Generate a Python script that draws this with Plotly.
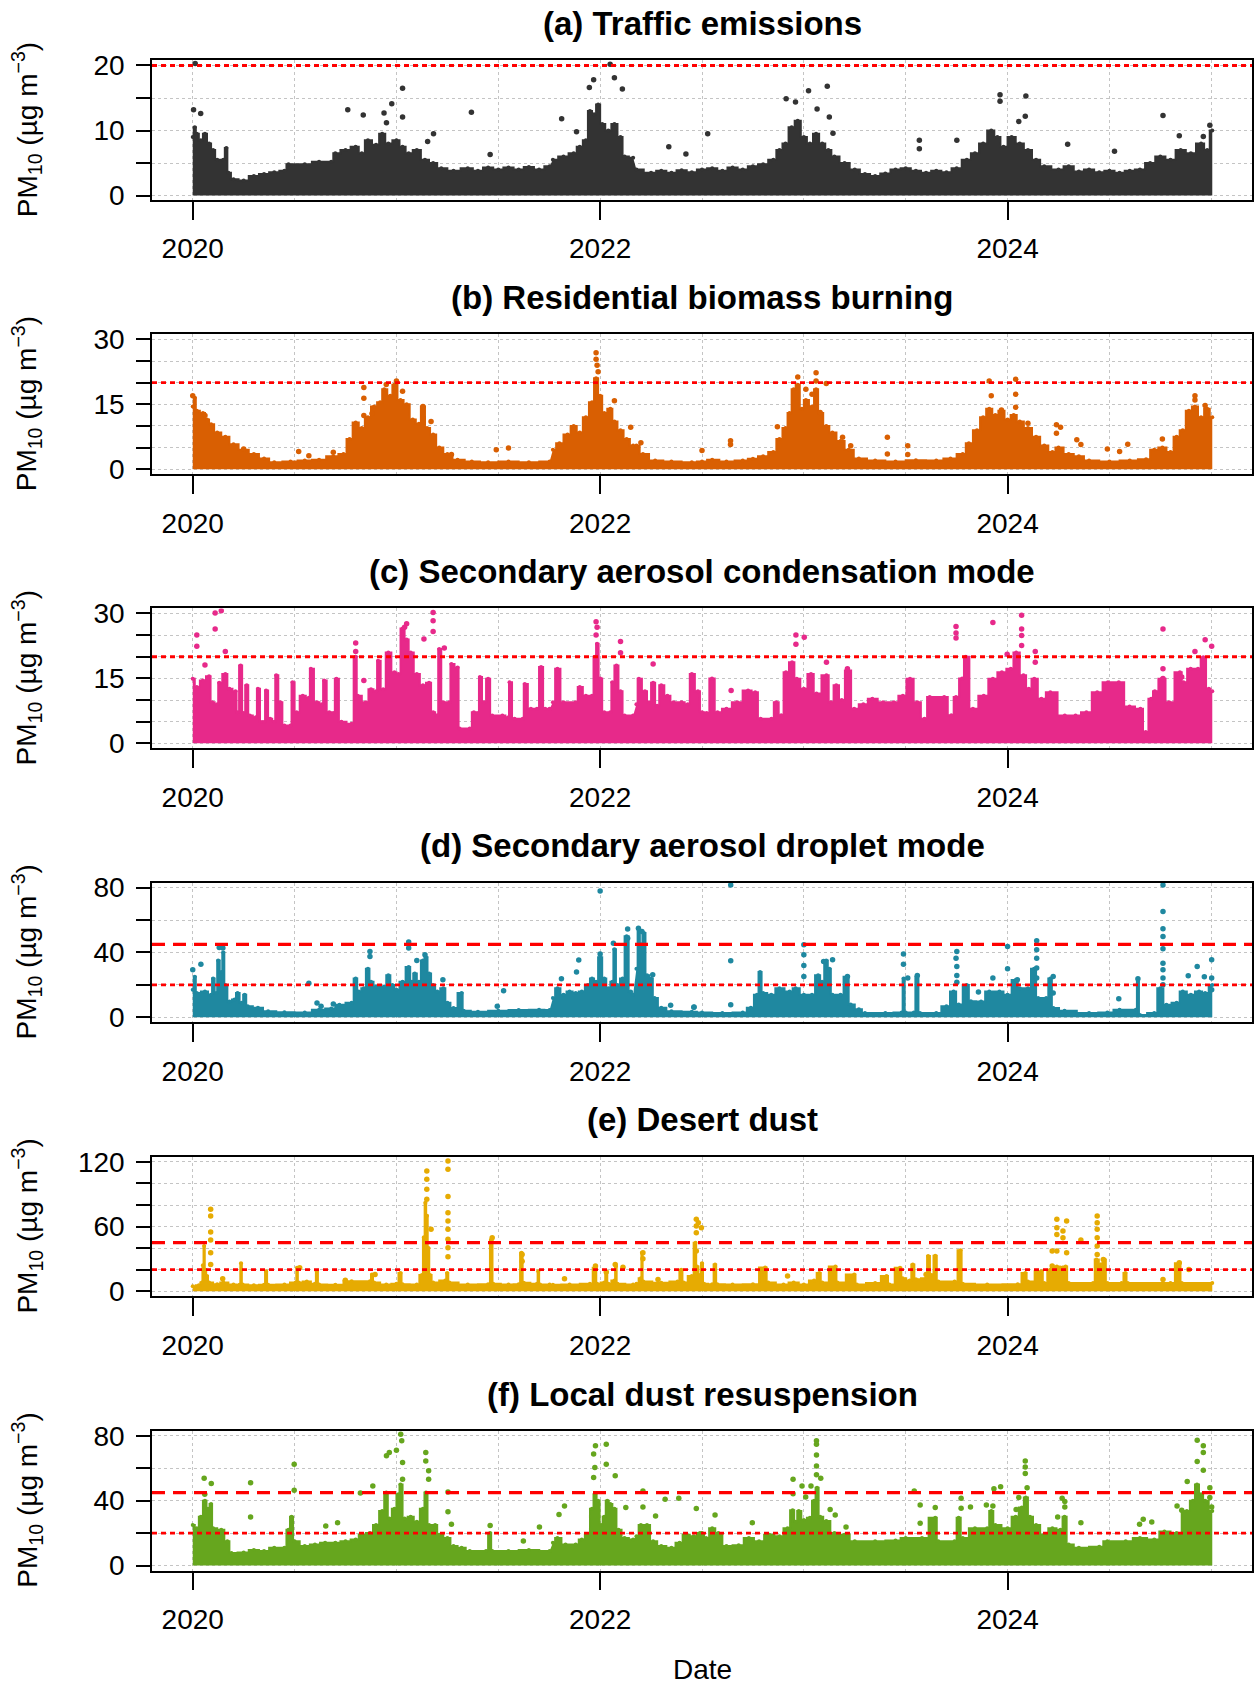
import plotly.graph_objects as go

W, H = 1255, 1686

# ---------------- data (decimal year, PM10 in ug m-3) ----------------
panel_titles = ["(a) Traffic emissions", "(b) Residential biomass burning",
                "(c) Secondary aerosol condensation mode", "(d) Secondary aerosol droplet mode",
                "(e) Desert dust", "(f) Local dust resuspension"]
panel_colors = ["#333333", "#D95F02", "#E7298A", "#1F88A0", "#E6AB02", "#66A61E"]
y_ranges = [[-0.7, 20.8], [-1.15, 31.15], [-1.15, 31.15], [-3.1, 83.1], [-4.9, 124.9], [-3.1, 83.1]]
y_major = [10, 15, 15, 40, 60, 40]
y_minor = [5, 5, 5, 20, 20, 20]
year_ticks = [2020, 2022, 2024]
x_range = [2019.8, 2025.2]
dotted_limit = 20
dashed_limit = 45

# upper edge of the dense cloud of hourly points (None = data gap)
traffic_envelope = [
    (2020.000, 9.0), (2020.010, 10.5), (2020.020, 9.5), (2020.040, 8.5), (2020.060, 9.5), (2020.080, 8.0),
    (2020.100, 7.0), (2020.120, 5.5), (2020.150, 5.5), (2020.165, 7.3), (2020.175, 3.5), (2020.200, 2.5),
    (2020.250, 2.3), (2020.300, 3.0), (2020.350, 3.3), (2020.400, 3.6), (2020.450, 3.8), (2020.470, 4.8),
    (2020.550, 4.8), (2020.620, 5.2), (2020.680, 5.2), (2020.700, 6.5), (2020.750, 7.0), (2020.800, 7.5),
    (2020.830, 6.5), (2020.860, 8.5), (2020.900, 7.8), (2020.930, 9.5), (2020.960, 8.0), (2021.000, 8.5),
    (2021.030, 7.5), (2021.060, 6.5), (2021.100, 7.0), (2021.140, 5.5), (2021.180, 5.0), (2021.220, 4.2),
    (2021.280, 3.8), (2021.350, 4.2), (2021.400, 3.8), (2021.450, 4.3), (2021.500, 4.0), (2021.550, 4.3),
    (2021.600, 4.0), (2021.650, 4.4), (2021.700, 4.0), (2021.752, 4.5), None,
    (2021.768, 5.5), (2021.820, 6.0), (2021.870, 6.5), (2021.900, 7.5), (2021.930, 8.5), (2021.950, 13.0),
    (2021.970, 12.5), (2021.990, 14.0), (2022.010, 11.0), (2022.040, 10.0), (2022.070, 11.0), (2022.100, 9.0),
    (2022.120, 6.0), (2022.162, 5.8), None,
    (2022.178, 4.0), (2022.250, 3.5), (2022.300, 3.8), (2022.350, 3.5), (2022.400, 3.9), (2022.450, 3.6),
    (2022.500, 4.0), (2022.550, 4.2), (2022.600, 3.8), (2022.650, 4.3), (2022.700, 4.0), (2022.750, 4.5),
    (2022.800, 4.8), (2022.850, 5.5), (2022.880, 7.0), (2022.910, 8.0), (2022.940, 10.5), (2022.970, 11.5),
    (2023.000, 9.0), (2023.030, 8.0), (2023.060, 9.5), (2023.090, 8.0), (2023.120, 7.0), (2023.150, 6.0),
    (2023.200, 5.0), (2023.250, 4.0), (2023.300, 3.3), (2023.350, 3.0), (2023.400, 3.4), (2023.450, 4.0),
    (2023.500, 4.2), (2023.550, 3.8), (2023.600, 3.5), (2023.650, 3.8), (2023.700, 3.6), (2023.750, 4.2),
    (2023.800, 5.5), (2023.840, 6.5), (2023.880, 8.0), (2023.920, 10.0), (2023.950, 9.0), (2023.980, 7.5),
    (2024.020, 9.0), (2024.060, 8.0), (2024.100, 7.0), (2024.140, 5.5), (2024.180, 4.5), (2024.250, 4.0),
    (2024.300, 4.5), (2024.350, 3.7), (2024.400, 4.0), (2024.450, 3.6), (2024.500, 3.8), (2024.550, 3.5),
    (2024.600, 3.8), (2024.650, 4.0), (2024.700, 5.0), (2024.750, 6.0), (2024.800, 5.5), (2024.850, 7.0),
    (2024.900, 6.5), (2024.950, 8.0), (2024.980, 7.0), (2025.005, 10.0)]
traffic_points = [
    (2020.012, 20.3), (2020.004, 13.2), (2020.039, 12.6), (2020.761, 13.2), (2020.837, 12.4), (2020.939, 12.7),
    (2020.951, 11.2), (2020.977, 14.1), (2021.030, 16.5), (2021.030, 12.1), (2021.153, 8.3), (2021.182, 9.5),
    (2021.368, 12.8), (2021.460, 6.3), (2021.811, 11.8), (2021.884, 9.8), (2021.947, 16.6), (2021.968, 17.8),
    (2022.049, 20.2), (2022.070, 18.1), (2022.109, 16.4), (2022.337, 7.5), (2022.421, 6.4), (2022.528, 9.5),
    (2022.913, 14.9), (2022.959, 14.4), (2023.023, 16.1), (2023.065, 13.3), (2023.115, 16.8), (2023.125, 12.1),
    (2023.143, 9.6), (2023.567, 8.5), (2023.567, 7.2), (2023.751, 8.5), (2023.963, 15.5), (2023.963, 14.5),
    (2024.055, 11.4), (2024.087, 12.2), (2024.090, 15.3), (2024.295, 7.9), (2024.525, 6.8), (2024.763, 12.3),
    (2024.843, 9.2), (2024.961, 9.1), (2024.993, 10.8)]

biomass_envelope = [
    (2020.000, 14.5), (2020.010, 16.5), (2020.020, 13.5), (2020.050, 13.0), (2020.070, 11.5), (2020.090, 10.4),
    (2020.120, 8.5), (2020.160, 7.5), (2020.200, 5.8), (2020.250, 4.5), (2020.300, 3.5), (2020.350, 2.5),
    (2020.400, 1.6), (2020.480, 1.8), (2020.550, 2.0), (2020.620, 2.2), (2020.690, 3.0), (2020.740, 3.5),
    (2020.770, 7.0), (2020.800, 10.8), (2020.830, 9.5), (2020.860, 12.0), (2020.890, 14.5), (2020.920, 15.5),
    (2020.940, 18.5), (2020.970, 17.0), (2020.990, 19.5), (2021.020, 16.0), (2021.050, 15.0), (2021.080, 11.5),
    (2021.110, 10.5), (2021.130, 14.5), (2021.150, 9.5), (2021.180, 8.0), (2021.210, 5.0), (2021.250, 3.5),
    (2021.300, 2.2), (2021.370, 1.8), (2021.450, 1.6), (2021.550, 1.8), (2021.650, 1.6), (2021.752, 1.8), None,
    (2021.768, 4.5), (2021.800, 6.0), (2021.840, 8.0), (2021.870, 10.0), (2021.900, 8.5), (2021.930, 12.0),
    (2021.960, 15.5), (2021.980, 21.0), (2022.000, 17.0), (2022.020, 13.0), (2022.050, 14.0), (2022.070, 11.0),
    (2022.100, 9.0), (2022.130, 7.0), (2022.162, 5.5), None,
    (2022.178, 5.5), (2022.210, 3.5), (2022.270, 2.0), (2022.350, 1.8), (2022.450, 1.6), (2022.500, 1.8),
    (2022.550, 2.2), (2022.620, 1.8), (2022.700, 2.0), (2022.750, 2.4), (2022.800, 3.0), (2022.850, 4.0),
    (2022.880, 7.0), (2022.910, 9.5), (2022.930, 13.0), (2022.950, 18.5), (2022.970, 19.5), (2022.990, 14.0),
    (2023.010, 16.0), (2023.040, 14.5), (2023.060, 18.5), (2023.080, 13.0), (2023.110, 10.0), (2023.140, 8.5),
    (2023.180, 6.5), (2023.220, 4.5), (2023.270, 2.5), (2023.350, 2.0), (2023.450, 1.8), (2023.550, 2.1),
    (2023.650, 2.0), (2023.720, 2.5), (2023.780, 3.5), (2023.810, 6.0), (2023.850, 9.0), (2023.880, 12.0),
    (2023.910, 14.0), (2023.940, 12.5), (2023.970, 13.5), (2024.000, 11.5), (2024.030, 12.5), (2024.060, 11.0),
    (2024.100, 9.5), (2024.140, 7.5), (2024.180, 5.5), (2024.220, 4.0), (2024.250, 5.0), (2024.300, 3.5),
    (2024.350, 3.0), (2024.400, 2.0), (2024.500, 1.8), (2024.600, 2.0), (2024.680, 2.3), (2024.720, 4.5),
    (2024.760, 5.0), (2024.800, 4.0), (2024.830, 7.5), (2024.860, 9.0), (2024.890, 13.5), (2024.920, 14.5),
    (2024.950, 12.0), (2024.980, 14.0), (2025.005, 12.0)]
biomass_points = [
    (2020.00, 17.0), (2020.06, 12.4), (2020.25, 4.7), (2020.52, 4.1), (2020.57, 3.1), (2020.69, 3.9),
    (2020.84, 18.9), (2020.84, 16.4), (2020.84, 12.4), (2020.88, 12.9), (2020.95, 19.6), (2021.00, 20.4),
    (2021.03, 18.0), (2021.13, 14.5), (2021.17, 11.0), (2021.27, 3.4), (2021.49, 4.5), (2021.55, 4.9),
    (2021.98, 26.9), (2021.98, 25.4), (2021.985, 24.0), (2021.99, 22.5), (2022.07, 15.8), (2022.15, 9.7),
    (2022.20, 6.1), (2022.50, 4.3), (2022.64, 6.6), (2022.64, 5.7), (2022.87, 9.8), (2022.97, 21.3),
    (2023.01, 18.5), (2023.04, 17.3), (2023.06, 22.3), (2023.06, 20.4), (2023.11, 19.8), (2023.08, 13.1),
    (2023.19, 7.4), (2023.23, 5.4), (2023.41, 7.4), (2023.41, 3.5), (2023.51, 5.4), (2023.51, 3.4),
    (2023.91, 20.4), (2023.92, 17.0), (2023.97, 13.7), (2024.04, 20.8), (2024.04, 17.3), (2024.04, 14.3),
    (2024.10, 10.6), (2024.24, 10.3), (2024.24, 8.3), (2024.26, 9.7), (2024.34, 6.8), (2024.36, 5.7),
    (2024.49, 4.7), (2024.55, 4.1), (2024.59, 5.8), (2024.76, 7.0), (2024.92, 17.0), (2024.92, 16.0),
    (2024.97, 14.7)]

condensation_envelope = [
    (2020.000, 14.9), (2020.020, 13.0), (2020.050, 14.5), (2020.080, 15.5), (2020.095, 9.5), (2020.120, 9.0),
    (2020.130, 14.0), (2020.160, 16.0), (2020.180, 12.6), (2020.210, 12.0), (2020.220, 7.2), (2020.235, 18.0),
    (2020.250, 7.0), (2020.265, 13.4), (2020.280, 6.4), (2020.310, 6.0), (2020.320, 12.6), (2020.340, 4.9),
    (2020.350, 4.9), (2020.360, 12.2), (2020.380, 5.7), (2020.400, 5.0), (2020.410, 15.7), (2020.430, 9.5),
    (2020.450, 4.1), (2020.480, 4.1), (2020.490, 14.1), (2020.510, 7.2), (2020.540, 11.0), (2020.570, 10.5),
    (2020.580, 17.2), (2020.610, 9.5), (2020.635, 9.0), (2020.645, 14.5), (2020.670, 7.2), (2020.690, 7.0),
    (2020.705, 14.9), (2020.730, 5.0), (2020.780, 4.5), (2020.800, 20.0), (2020.810, 11.0), (2020.850, 9.5),
    (2020.875, 12.5), (2020.900, 12.0), (2020.910, 19.1), (2020.935, 12.5), (2020.960, 21.0), (2020.990, 16.4),
    (2021.010, 16.0), (2021.030, 26.5), (2021.050, 24.0), (2021.070, 21.0), (2021.100, 16.0), (2021.130, 13.4),
    (2021.160, 14.0), (2021.180, 7.2), (2021.200, 6.5), (2021.210, 21.8), (2021.230, 9.5), (2021.260, 9.5),
    (2021.270, 18.3), (2021.300, 17.5), (2021.310, 3.4), (2021.360, 3.4), (2021.380, 7.2), (2021.400, 7.0),
    (2021.410, 15.3), (2021.430, 9.5), (2021.450, 14.9), (2021.470, 6.4), (2021.520, 6.4), (2021.550, 6.0),
    (2021.555, 14.1), (2021.580, 5.7), (2021.620, 5.7), (2021.630, 13.7), (2021.660, 8.0), (2021.690, 8.0),
    (2021.710, 17.6), (2021.730, 8.0), (2021.752, 8.0), None,
    (2021.768, 9.5), (2021.790, 17.2), (2021.820, 9.5), (2021.880, 9.5), (2021.900, 13.0), (2021.930, 11.0),
    (2021.960, 11.0), (2021.975, 20.0), (2021.985, 23.0), (2022.000, 15.0), (2022.020, 7.2), (2022.050, 7.2),
    (2022.060, 14.1), (2022.080, 18.0), (2022.100, 12.0), (2022.120, 6.4), (2022.162, 6.4), None,
    (2022.178, 9.0), (2022.190, 14.9), (2022.220, 12.0), (2022.240, 9.5), (2022.260, 14.0), (2022.280, 8.7),
    (2022.300, 13.4), (2022.330, 11.0), (2022.360, 9.5), (2022.400, 9.5), (2022.430, 9.0), (2022.450, 16.0),
    (2022.480, 12.0), (2022.500, 7.2), (2022.523, 7.0), (2022.549, 15.0), (2022.576, 7.2), (2022.620, 8.0),
    (2022.673, 9.5), (2022.726, 12.2), (2022.761, 11.8), (2022.788, 5.7), (2022.841, 5.7), (2022.864, 9.5),
    (2022.889, 6.5), (2022.912, 16.4), (2022.942, 18.7), (2022.965, 14.9), (2023.000, 12.6), (2023.035, 16.0),
    (2023.062, 11.5), (2023.111, 15.7), (2023.133, 9.5), (2023.159, 13.4), (2023.186, 10.0), (2023.217, 16.8),
    (2023.247, 8.0), (2023.292, 9.0), (2023.336, 10.3), (2023.389, 9.5), (2023.442, 9.5), (2023.486, 11.0),
    (2023.521, 14.9), (2023.557, 9.5), (2023.592, 5.7), (2023.618, 10.7), (2023.689, 10.7), (2023.724, 6.5),
    (2023.747, 10.7), (2023.777, 15.0), (2023.795, 20.0), (2023.830, 8.0), (2023.883, 11.0), (2023.928, 14.9),
    (2023.972, 16.4), (2024.016, 17.2), (2024.042, 21.0), (2024.078, 15.7), (2024.104, 12.6), (2024.131, 14.9),
    (2024.166, 10.3), (2024.210, 11.8), (2024.281, 6.4), (2024.334, 6.4), (2024.387, 7.2), (2024.440, 11.8),
    (2024.493, 14.1), (2024.546, 14.1), (2024.599, 8.5), (2024.652, 8.0), (2024.678, 2.6), (2024.705, 10.3),
    (2024.723, 12.0), (2024.758, 14.9), (2024.793, 9.5), (2024.846, 16.4), (2024.864, 14.1), (2024.899, 17.2),
    (2024.935, 17.2), (2024.961, 19.9), (2024.988, 12.6), (2025.005, 12.0)]
condensation_points = [
    (2020.11, 30.1), (2020.14, 30.6), (2020.11, 26.4), (2020.02, 25.0), (2020.02, 22.4), (2020.06, 18.1),
    (2020.16, 21.2), (2020.80, 23.2), (2020.80, 21.2), (2020.84, 14.5), (2021.05, 27.6), (2021.04, 26.8),
    (2021.135, 24.1), (2021.18, 30.2), (2021.18, 28.3), (2021.18, 25.8), (2021.235, 22.0), (2021.98, 28.1),
    (2021.985, 26.8), (2021.98, 25.0), (2022.10, 23.5), (2022.10, 20.9), (2022.26, 18.3), (2023.747, 27.0),
    (2023.747, 25.5), (2023.747, 24.3), (2023.928, 27.9), (2024.069, 29.6), (2024.069, 26.4), (2024.069, 24.9),
    (2024.069, 22.6), (2023.998, 20.6), (2024.136, 21.2), (2024.136, 18.7), (2022.961, 25.0), (2022.961, 22.9),
    (2023.002, 24.5), (2023.111, 18.7), (2023.214, 17.2), (2022.643, 12.2), (2024.763, 26.4), (2024.763, 17.2),
    (2024.763, 15.0), (2024.970, 23.9), (2025.002, 22.4), (2024.920, 21.2), (2024.855, 15.3)]

droplet_envelope = [
    (2020.000, 17.0), (2020.010, 25.0), (2020.020, 15.0), (2020.060, 16.0), (2020.090, 14.0), (2020.100, 24.0),
    (2020.115, 15.0), (2020.125, 35.0), (2020.140, 28.0), (2020.150, 40.0), (2020.160, 20.0), (2020.180, 9.8),
    (2020.205, 11.0), (2020.220, 15.0), (2020.240, 9.0), (2020.255, 14.0), (2020.270, 6.8), (2020.320, 6.0),
    (2020.370, 3.7), (2020.450, 3.2), (2020.550, 3.0), (2020.620, 4.7), (2020.680, 5.5), (2020.720, 7.8),
    (2020.780, 9.0), (2020.800, 24.0), (2020.815, 16.0), (2020.840, 18.0), (2020.860, 30.0), (2020.875, 22.0),
    (2020.900, 19.0), (2020.940, 19.0), (2020.960, 26.0), (2020.980, 20.0), (2021.000, 17.0), (2021.030, 22.0),
    (2021.060, 31.0), (2021.075, 22.0), (2021.090, 27.0), (2021.110, 22.0), (2021.130, 35.0), (2021.145, 37.0),
    (2021.160, 27.0), (2021.180, 20.0), (2021.200, 16.0), (2021.230, 18.0), (2021.250, 9.0), (2021.280, 5.7),
    (2021.320, 15.0), (2021.330, 4.0), (2021.400, 3.5), (2021.500, 4.0), (2021.600, 4.5), (2021.700, 4.7),
    (2021.752, 4.5), None,
    (2021.768, 12.0), (2021.790, 18.0), (2021.820, 14.0), (2021.850, 16.0), (2021.880, 15.0), (2021.910, 16.0),
    (2021.940, 20.0), (2021.960, 24.0), (2021.980, 22.0), (2022.000, 37.0), (2022.020, 24.0), (2022.040, 18.0),
    (2022.060, 22.0), (2022.070, 42.0), (2022.085, 20.0), (2022.110, 24.0), (2022.130, 50.0), (2022.150, 16.0),
    (2022.162, 14.0), None,
    (2022.178, 30.0), (2022.190, 54.0), (2022.200, 45.0), (2022.215, 52.0), (2022.230, 26.0), (2022.250, 24.0),
    (2022.267, 12.0), (2022.300, 6.0), (2022.350, 3.7), (2022.450, 3.5), (2022.500, 3.0), (2022.600, 2.7),
    (2022.700, 3.0), (2022.740, 6.0), (2022.770, 14.0), (2022.785, 28.0), (2022.800, 15.0), (2022.840, 14.0),
    (2022.880, 18.0), (2022.930, 16.0), (2022.960, 18.0), (2023.000, 14.0), (2023.040, 14.0), (2023.070, 26.0),
    (2023.090, 22.0), (2023.110, 35.0), (2023.125, 30.0), (2023.140, 14.0), (2023.180, 14.0), (2023.210, 25.0),
    (2023.230, 8.0), (2023.270, 5.0), (2023.300, 2.7), (2023.400, 2.7), (2023.480, 3.0), (2023.490, 24.0),
    (2023.500, 3.0), (2023.540, 3.0), (2023.555, 25.0), (2023.570, 2.7), (2023.650, 2.7), (2023.700, 6.8),
    (2023.735, 16.0), (2023.760, 8.0), (2023.800, 20.0), (2023.820, 10.0), (2023.870, 9.8), (2023.910, 16.0),
    (2023.960, 16.0), (2024.000, 14.0), (2024.040, 23.0), (2024.060, 18.0), (2024.100, 18.0), (2024.130, 30.0),
    (2024.150, 12.0), (2024.190, 12.0), (2024.210, 24.0), (2024.225, 5.7), (2024.280, 4.0), (2024.400, 2.7),
    (2024.490, 3.0), (2024.550, 4.7), (2024.630, 4.7), (2024.640, 23.0), (2024.650, 1.5), (2024.720, 2.7),
    (2024.750, 18.0), (2024.780, 7.8), (2024.830, 9.0), (2024.860, 16.0), (2024.900, 14.0), (2024.940, 16.0),
    (2024.970, 15.0), (2025.005, 20.0)]
droplet_points = [
    (2020.000, 29.3), (2020.040, 32.8), (2020.130, 43.0), (2020.148, 42.7), (2020.570, 21.0), (2020.610, 8.8),
    (2020.630, 6.8), (2020.690, 8.2), (2020.870, 40.6), (2020.870, 37.5), (2021.060, 46.4), (2021.060, 42.7),
    (2021.100, 35.0), (2021.140, 38.6), (2021.228, 23.2), (2021.495, 6.8), (2021.526, 16.4), (2021.810, 23.8),
    (2021.895, 35.3), (2021.884, 27.9), (2022.000, 77.9), (2022.000, 39.0), (2022.065, 45.7), (2022.135, 54.4),
    (2022.135, 48.8), (2022.188, 55.0), (2022.205, 52.9), (2022.258, 26.3), (2022.346, 7.4), (2022.460, 6.2),
    (2022.641, 81.6), (2022.641, 34.9), (2022.641, 7.8), (2022.461, 6.4), (2023.000, 44.7), (2023.000, 38.6),
    (2023.000, 32.0), (2023.000, 25.2), (2023.097, 34.5), (2023.141, 35.5), (2023.115, 24.2), (2023.214, 25.2),
    (2023.489, 39.0), (2023.489, 32.8), (2023.510, 24.2), (2023.557, 25.8), (2023.751, 40.6), (2023.747, 36.5),
    (2023.751, 31.4), (2023.751, 25.8), (2023.751, 21.7), (2023.857, 15.6), (2023.928, 24.2), (2024.000, 43.7),
    (2024.000, 29.9), (2024.048, 23.2), (2024.143, 47.2), (2024.143, 41.6), (2024.143, 36.5), (2024.143, 30.4),
    (2024.143, 24.2), (2024.224, 25.2), (2024.224, 15.0), (2024.546, 11.5), (2024.640, 23.8), (2024.763, 81.6),
    (2024.763, 65.2), (2024.763, 54.6), (2024.763, 49.8), (2024.763, 42.3), (2024.763, 33.4), (2024.763, 29.3),
    (2024.763, 24.2), (2024.763, 20.1), (2024.931, 31.4), (2024.966, 25.0), (2025.002, 35.5), (2025.002, 24.2),
    (2025.002, 17.0), (2024.887, 25.6)]

dust_envelope = [
    (2020.000, 4.7), (2020.030, 5.5), (2020.045, 8.0), (2020.050, 24.0), (2020.056, 42.0), (2020.062, 20.0),
    (2020.070, 14.0), (2020.080, 8.0), (2020.120, 6.5), (2020.150, 8.0), (2020.200, 6.2), (2020.230, 6.0),
    (2020.237, 26.0), (2020.245, 6.2), (2020.300, 5.5), (2020.350, 6.0), (2020.360, 18.6), (2020.370, 6.0),
    (2020.450, 6.2), (2020.505, 8.0), (2020.512, 21.7), (2020.520, 8.0), (2020.560, 9.0), (2020.600, 7.0),
    (2020.609, 18.6), (2020.620, 6.2), (2020.700, 6.0), (2020.780, 9.3), (2020.870, 9.3), (2020.880, 15.5),
    (2020.890, 8.0), (2020.950, 6.2), (2021.000, 7.0), (2021.020, 17.0), (2021.030, 6.5), (2021.100, 6.2),
    (2021.125, 15.0), (2021.135, 50.0), (2021.142, 82.0), (2021.150, 70.0), (2021.157, 40.0), (2021.165, 15.0),
    (2021.180, 8.0), (2021.240, 10.0), (2021.249, 17.0), (2021.260, 8.0), (2021.350, 6.2), (2021.450, 6.5),
    (2021.468, 48.0), (2021.475, 7.0), (2021.550, 6.2), (2021.600, 6.5), (2021.614, 35.7), (2021.625, 7.8),
    (2021.690, 7.0), (2021.696, 18.6), (2021.705, 6.2), (2021.752, 6.2), None,
    (2021.768, 6.0), (2021.850, 6.2), (2021.950, 7.0), (2021.977, 21.7), (2021.985, 7.0), (2022.020, 8.0),
    (2022.030, 17.0), (2022.040, 7.0), (2022.070, 10.0), (2022.077, 23.0), (2022.085, 7.0), (2022.162, 6.2), None,
    (2022.178, 7.0), (2022.200, 12.0), (2022.205, 35.7), (2022.212, 9.0), (2022.300, 7.8), (2022.380, 9.0),
    (2022.398, 20.0), (2022.410, 8.0), (2022.450, 14.0), (2022.468, 45.0), (2022.475, 23.0), (2022.490, 15.0),
    (2022.500, 26.0), (2022.510, 7.0), (2022.550, 6.5), (2022.564, 24.8), (2022.575, 6.5), (2022.650, 6.2),
    (2022.750, 6.5), (2022.810, 22.0), (2022.825, 8.0), (2022.900, 6.2), (2022.950, 8.0), (2023.000, 6.2),
    (2023.050, 10.0), (2023.076, 17.0), (2023.090, 8.0), (2023.155, 23.0), (2023.165, 8.0), (2023.247, 15.5),
    (2023.260, 6.2), (2023.350, 7.5), (2023.406, 14.0), (2023.420, 6.2), (2023.472, 21.7), (2023.485, 12.0),
    (2023.520, 10.0), (2023.535, 24.8), (2023.550, 11.0), (2023.600, 12.0), (2023.610, 32.6), (2023.628, 15.0),
    (2023.645, 33.0), (2023.660, 9.0), (2023.740, 9.0), (2023.769, 38.0), (2023.780, 7.0), (2023.900, 6.2),
    (2024.050, 6.5), (2024.087, 17.0), (2024.100, 9.0), (2024.166, 18.6), (2024.180, 7.5), (2024.210, 20.0),
    (2024.242, 23.0), (2024.260, 22.0), (2024.285, 23.0), (2024.300, 7.5), (2024.420, 7.5), (2024.436, 29.5),
    (2024.460, 25.0), (2024.475, 29.5), (2024.490, 7.5), (2024.560, 7.5), (2024.578, 17.0), (2024.590, 7.5),
    (2024.800, 7.5), (2024.843, 26.0), (2024.855, 7.5), (2025.005, 7.5)]
dust_points = [
    (2020.088, 76.0), (2020.088, 69.8), (2020.088, 54.9), (2020.088, 47.4), (2020.088, 35.7), (2020.088, 24.8),
    (2020.147, 11.5), (2020.525, 21.7), (2020.749, 10.2), (2020.895, 15.5), (2021.149, 111.6), (2021.149, 103.9),
    (2021.149, 94.6), (2021.149, 85.3), (2021.170, 57.4), (2021.253, 120.9), (2021.253, 113.2), (2021.253, 87.8),
    (2021.253, 72.9), (2021.253, 65.1), (2021.253, 57.4), (2021.253, 48.1), (2021.253, 40.3), (2021.253, 31.9),
    (2021.470, 49.6), (2021.617, 34.1), (2021.617, 27.9), (2021.825, 11.5), (2021.977, 23.3), (2022.030, 17.7),
    (2022.074, 24.8), (2022.112, 22.3), (2022.210, 35.7), (2022.210, 30.1), (2022.284, 10.9), (2022.472, 66.7),
    (2022.472, 60.5), (2022.472, 54.3), (2022.472, 37.2), (2022.497, 58.9), (2022.482, 63.6), (2024.242, 66.7),
    (2024.242, 58.9), (2024.242, 52.7), (2024.242, 37.2), (2024.272, 55.8), (2024.272, 49.6), (2024.290, 65.1),
    (2024.290, 35.7), (2024.219, 37.2), (2024.360, 47.4), (2024.440, 69.8), (2024.440, 63.6), (2024.440, 57.4),
    (2024.440, 49.6), (2024.440, 41.9), (2024.440, 34.1), (2024.470, 29.5), (2023.600, 15.5), (2022.920, 14.0),
    (2024.843, 26.4), (2024.763, 10.9), (2024.890, 20.2), (2024.219, 23.3)]

local_envelope = [
    (2020.000, 25.0), (2020.020, 23.0), (2020.040, 30.0), (2020.060, 40.0), (2020.075, 35.0), (2020.090, 38.0),
    (2020.100, 23.0), (2020.140, 22.0), (2020.170, 15.0), (2020.190, 7.8), (2020.250, 8.0), (2020.300, 9.5),
    (2020.350, 9.0), (2020.400, 10.9), (2020.450, 11.0), (2020.470, 22.0), (2020.485, 30.0), (2020.500, 15.0),
    (2020.550, 12.0), (2020.600, 13.0), (2020.650, 14.0), (2020.700, 14.0), (2020.750, 15.0), (2020.800, 16.0),
    (2020.830, 19.0), (2020.870, 20.0), (2020.900, 25.0), (2020.930, 33.6), (2020.950, 45.0), (2020.965, 29.0),
    (2020.990, 35.0), (2021.010, 44.0), (2021.020, 50.0), (2021.040, 29.0), (2021.070, 30.0), (2021.100, 27.0),
    (2021.130, 35.0), (2021.145, 45.0), (2021.160, 25.0), (2021.190, 25.0), (2021.210, 19.0), (2021.250, 17.0),
    (2021.280, 12.0), (2021.320, 10.9), (2021.360, 8.9), (2021.440, 9.0), (2021.460, 20.0), (2021.470, 9.0),
    (2021.550, 8.9), (2021.650, 9.5), (2021.752, 9.0), None,
    (2021.768, 14.0), (2021.790, 17.0), (2021.830, 13.0), (2021.880, 13.0), (2021.910, 16.0), (2021.940, 19.0),
    (2021.960, 35.0), (2021.975, 44.0), (2021.990, 40.0), (2022.005, 25.0), (2022.020, 30.0), (2022.035, 40.0),
    (2022.050, 38.0), (2022.070, 35.0), (2022.090, 22.0), (2022.120, 17.0), (2022.162, 16.0), None,
    (2022.178, 18.0), (2022.200, 25.0), (2022.230, 25.0), (2022.260, 15.0), (2022.300, 12.0), (2022.350, 10.9),
    (2022.390, 14.0), (2022.420, 19.0), (2022.460, 18.0), (2022.490, 20.0), (2022.500, 20.0), (2022.520, 17.0),
    (2022.550, 23.0), (2022.580, 20.0), (2022.620, 12.0), (2022.680, 12.5), (2022.730, 17.0), (2022.780, 15.0),
    (2022.830, 19.0), (2022.880, 18.0), (2022.920, 23.0), (2022.945, 34.0), (2022.960, 27.0), (2022.975, 33.6),
    (2023.000, 28.0), (2023.030, 29.5), (2023.050, 40.0), (2023.065, 48.0), (2023.080, 30.0), (2023.110, 27.4),
    (2023.150, 20.0), (2023.200, 19.0), (2023.250, 15.0), (2023.350, 15.0), (2023.450, 15.5), (2023.500, 17.0),
    (2023.580, 17.0), (2023.645, 29.5), (2023.660, 15.0), (2023.740, 15.0), (2023.760, 29.5), (2023.780, 17.0),
    (2023.840, 23.0), (2023.900, 23.0), (2023.920, 33.6), (2023.940, 25.0), (2024.000, 23.0), (2024.040, 30.0),
    (2024.070, 35.7), (2024.090, 42.0), (2024.110, 30.0), (2024.140, 25.0), (2024.180, 19.0), (2024.220, 23.0),
    (2024.260, 22.0), (2024.280, 30.0), (2024.300, 13.0), (2024.350, 10.9), (2024.450, 11.5), (2024.490, 15.0),
    (2024.580, 15.0), (2024.650, 17.0), (2024.720, 16.0), (2024.770, 21.0), (2024.830, 20.0), (2024.880, 33.6),
    (2024.910, 40.0), (2024.930, 50.0), (2024.950, 44.0), (2024.970, 40.0), (2025.005, 33.6)]
local_points = [
    (2020.056, 53.8), (2020.091, 50.5), (2020.059, 43.9), (2020.284, 51.1), (2020.284, 29.9), (2020.498, 62.5),
    (2020.498, 46.4), (2020.653, 24.3), (2020.711, 26.4), (2020.823, 44.7), (2020.884, 49.1), (2020.951, 67.6),
    (2020.965, 69.7), (2021.000, 71.1), (2021.021, 81.0), (2021.026, 76.9), (2021.030, 63.5), (2021.030, 53.2),
    (2021.144, 69.7), (2021.144, 64.5), (2021.158, 58.4), (2021.158, 53.2), (2021.253, 45.4), (2021.253, 33.2),
    (2021.270, 25.4), (2021.460, 24.7), (2021.623, 15.1), (2021.702, 23.7), (2021.798, 31.5), (2021.825, 36.7),
    (2021.977, 73.8), (2021.968, 68.7), (2021.974, 60.4), (2021.968, 54.2), (2022.030, 74.8), (2022.030, 62.5),
    (2022.074, 55.3), (2022.126, 35.7), (2022.210, 46.0), (2022.210, 36.1), (2022.272, 30.5), (2022.319, 40.8),
    (2022.386, 41.4), (2022.472, 35.1), (2022.947, 53.2), (2022.947, 44.3), (2022.991, 49.1), (2023.009, 42.3),
    (2023.035, 49.1), (2023.062, 76.9), (2023.062, 74.8), (2023.062, 68.2), (2023.062, 61.4), (2023.062, 55.9),
    (2023.083, 53.8), (2023.129, 34.6), (2023.154, 31.1), (2022.747, 26.4), (2022.564, 31.1), (2023.207, 23.7),
    (2023.542, 46.0), (2023.571, 37.3), (2023.645, 35.7), (2023.571, 26.0), (2023.772, 41.4), (2023.772, 35.3),
    (2023.818, 36.1), (2023.896, 37.3), (2023.933, 47.4), (2023.966, 48.5), (2023.928, 36.7), (2024.087, 64.5),
    (2024.087, 60.8), (2024.087, 56.7), (2024.096, 48.0), (2024.055, 41.9), (2024.042, 34.6), (2024.268, 41.4),
    (2024.281, 39.4), (2024.281, 36.1), (2024.246, 29.9), (2024.360, 26.4), (2024.648, 25.4), (2024.666, 28.5),
    (2024.708, 26.8), (2024.832, 36.7), (2024.855, 34.0), (2024.882, 51.8), (2024.931, 77.3), (2024.931, 64.1),
    (2024.961, 73.8), (2024.961, 69.7), (2024.961, 58.8), (2024.993, 48.0), (2024.993, 41.9), (2025.002, 36.1)]

envelopes = [traffic_envelope, biomass_envelope, condensation_envelope,
             droplet_envelope, dust_envelope, local_envelope]
points = [traffic_points, biomass_points, condensation_points,
          droplet_points, dust_points, local_points]

# ---------------- layout geometry (pixels) ----------------
L_PX, R_PX = 152, 1252
TOP0, STEP, BOX_H = 57.3, 274.4, 140.0
FONT = "Liberation Sans, Arial, Helvetica, sans-serif"
# measured correction between requested and rendered vertical positions
V_SCALE, V_OFF = 0.98868, 6.95


def place(y_px):
    """vertical pixel wanted on screen -> paper fraction"""
    return 1 - ((y_px - V_OFF) / V_SCALE) / H


def split(pairs):
    xs, ys = [], []
    for p in pairs:
        if p is None:
            xs.append(None)
            ys.append(None)
        else:
            xs.append(p[0])
            ys.append(p[1])
    return xs, ys


fig = go.Figure()
shapes, annotations = [], []
layout = {}

for k in range(6):
    sfx = "" if k == 0 else str(k + 1)
    xa, ya = "x" + sfx, "y" + sfx
    col = panel_colors[k]
    top = TOP0 + STEP * k
    bot = top + BOX_H

    ex, ey = split(envelopes[k])
    fig.add_trace(go.Scatter(x=ex, y=ey, mode="lines+markers", xaxis=xa, yaxis=ya,
                             line=dict(color=col, width=2.0, shape="hvh"), fill="tozeroy",
                             fillcolor=col, marker=dict(size=4, color=col),
                             hoverinfo="skip", showlegend=False))
    px_, py_ = split(points[k])
    fig.add_trace(go.Scatter(x=px_, y=py_, mode="markers", xaxis=xa, yaxis=ya,
                             marker=dict(size=5.5, color=col, line=dict(width=0)),
                             hoverinfo="skip", showlegend=False))

    grid = dict(showgrid=True, gridcolor="#C4C4C4", griddash="dot", gridwidth=1)
    layout["xaxis" + sfx] = dict(
        domain=[L_PX / W, R_PX / W], anchor=ya, range=x_range,
        tickmode="array", tickvals=year_ticks, ticktext=[str(t) for t in year_ticks],
        ticks="outside", ticklen=18, tickwidth=1.5, tickcolor="black",
        showline=True, mirror=True, linecolor="black", linewidth=1.5, zeroline=False,
        tickfont=dict(size=28, color="black", family=FONT), ticklabelstandoff=5,
        minor=dict(tick0=2020, dtick=0.5, ticks="", **grid), **grid)
    layout["yaxis" + sfx] = dict(
        domain=[place(bot), place(top)], anchor=xa, range=y_ranges[k],
        tick0=0, dtick=y_major[k], ticks="outside", ticklen=14, tickwidth=1.5, tickcolor="black",
        showline=True, mirror=True, linecolor="black", linewidth=1.5, zeroline=False,
        tickfont=dict(size=28, color="black", family=FONT), ticklabelstandoff=6,
        minor=dict(tick0=0, dtick=y_minor[k], ticks="outside", ticklen=14, tickwidth=1.5,
                   tickcolor="black", **grid), **grid)

    # reference limit lines
    shapes.append(dict(type="line", xref=xa + " domain", yref=ya, x0=0, x1=1,
                       y0=dotted_limit, y1=dotted_limit, layer="above",
                       line=dict(color="red", width=2.8, dash="5px,4px")))
    if y_ranges[k][1] > dashed_limit:
        shapes.append(dict(type="line", xref=xa + " domain", yref=ya, x0=0, x1=1,
                           y0=dashed_limit, y1=dashed_limit, layer="above",
                           line=dict(color="red", width=3.2, dash="13px,8px")))

    annotations.append(dict(text="<b>" + panel_titles[k] + "</b>", xref="paper", yref="paper",
                            x=(L_PX + R_PX) / 2 / W, y=place(top - 33.6 - 3.1),
                            xanchor="center", yanchor="middle", showarrow=False,
                            font=dict(size=33, color="black", family=FONT)))
    annotations.append(dict(text="PM<sub>10</sub> (µg m<sup>−3</sup>)", xref="paper", yref="paper",
                            x=27 / W, y=place(top + BOX_H / 2), textangle=-90,
                            xanchor="center", yanchor="middle", showarrow=False,
                            font=dict(size=28, color="black", family=FONT)))

annotations.append(dict(text="Date", xref="paper", yref="paper",
                        x=(L_PX + R_PX) / 2 / W, y=place(1670 - 1.3),
                        xanchor="center", yanchor="middle", showarrow=False,
                        font=dict(size=28, color="black", family=FONT)))

fig.update_layout(width=W, height=H, margin=dict(l=0, r=0, t=0, b=0),
                  paper_bgcolor="white", plot_bgcolor="white",
                  font=dict(family=FONT, color="black"),
                  shapes=shapes, annotations=annotations, showlegend=False, **layout)

fig.write_html("out.html")
